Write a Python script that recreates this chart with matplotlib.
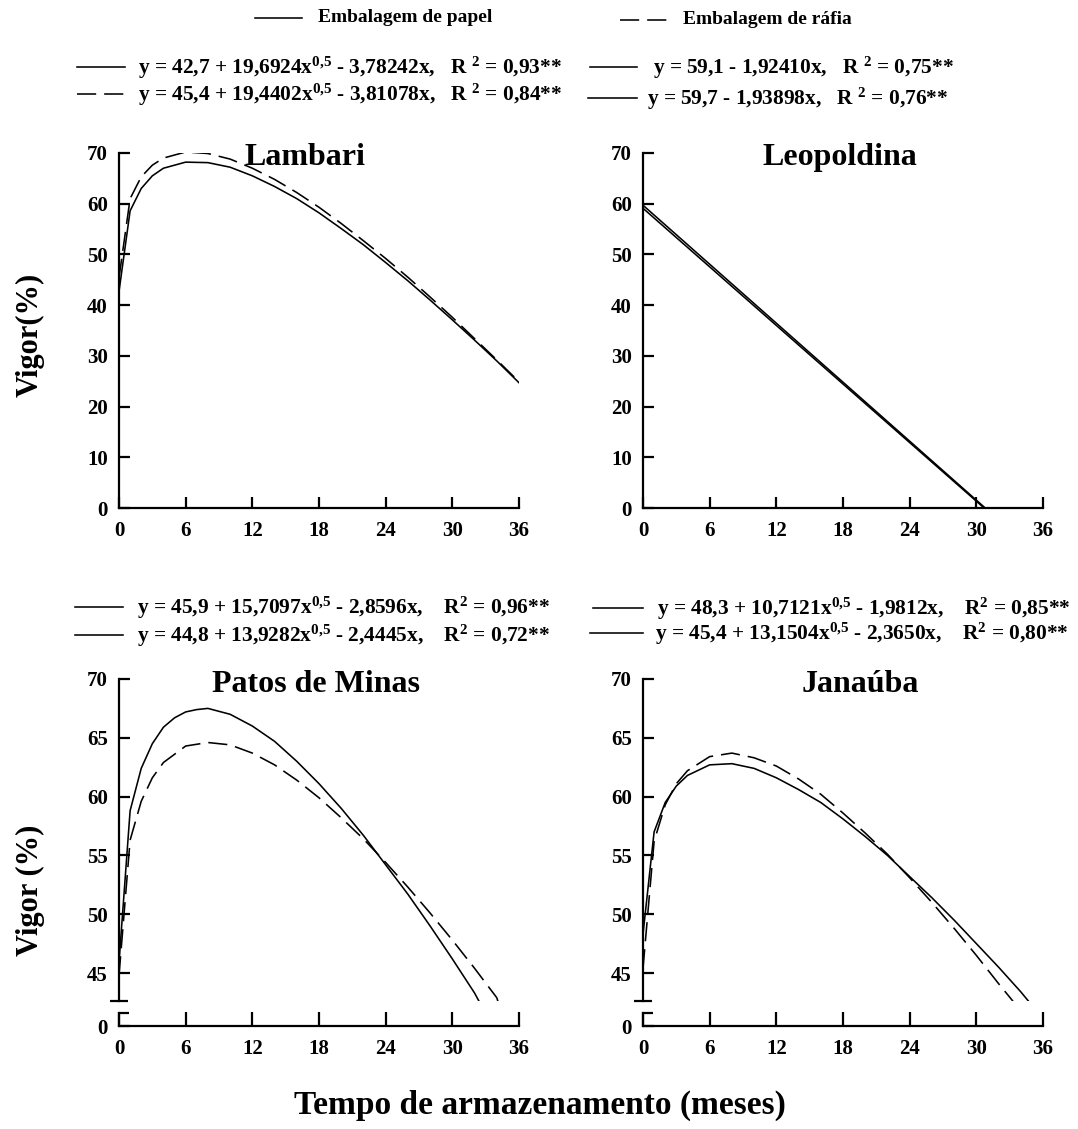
import matplotlib
matplotlib.use("Agg")
import matplotlib.pyplot as plt
from matplotlib.lines import Line2D

plt.rcParams['font.family'] = ['Liberation Serif', 'DejaVu Serif']
plt.rcParams['font.weight'] = 'bold'
plt.rcParams['mathtext.fontset'] = 'custom'
plt.rcParams['mathtext.rm'] = 'Liberation Serif:bold'
plt.rcParams['mathtext.bf'] = 'Liberation Serif:bold'
plt.rcParams['mathtext.it'] = 'Liberation Serif:bold'

# Lambari (meses, vigor %)
lam_x = [0, 1, 2, 3, 4, 6, 8, 10, 12, 14, 16, 18, 20, 22, 24, 26, 28, 30, 32, 34, 36]
lam_papel = [42.7, 58.6, 63.0, 65.5, 67.0, 68.2, 68.1, 67.2, 65.5, 63.4, 61.0,
             58.2, 55.1, 51.9, 48.4, 44.8, 41.0, 37.1, 33.1, 29.0, 24.7]
lam_rafia = [45.4, 61.0, 65.3, 67.6, 69.0, 70.2, 69.9, 68.8, 67.0, 64.8, 62.2,
             59.3, 56.1, 52.7, 49.2, 45.5, 41.6, 37.6, 33.4, 29.2, 24.9]

# Leopoldina
leo_x_papel = [0, 30.7]
leo_papel = [59.1, 0]
leo_x_rafia = [0, 30.8]
leo_rafia = [59.7, 0]

# Patos de Minas
pat_x_papel = [0, 1, 2, 3, 4, 5, 6, 7, 8, 10, 12, 14, 16, 18, 20, 22, 24, 26, 28, 30, 32, 32.4]
pat_papel = [45.9, 58.8, 62.4, 64.5, 65.9, 66.7, 67.2, 67.4, 67.5, 67.0, 66.0,
             64.7, 63.0, 61.1, 59.0, 56.7, 54.2, 51.7, 49.0, 46.2, 43.3, 42.6]
pat_x_rafia = [0, 1, 2, 3, 4, 6, 8, 10, 12, 14, 16, 18, 20, 22, 24, 26, 28, 30, 32, 34, 34.1]
pat_rafia = [44.8, 56.3, 59.6, 61.6, 62.9, 64.3, 64.6, 64.4, 63.7, 62.7, 61.4,
             59.9, 58.2, 56.4, 54.4, 52.3, 50.1, 47.8, 45.4, 42.9, 42.6]

# Janauba
jan_x_papel = [0, 1, 2, 3, 4, 6, 8, 10, 12, 14, 16, 18, 20, 22, 24, 26, 28, 30, 32, 34, 34.7]
jan_papel = [48.3, 57.0, 59.5, 60.9, 61.8, 62.7, 62.8, 62.4, 61.6, 60.6, 59.5,
             58.1, 56.6, 55.0, 53.2, 51.4, 49.5, 47.5, 45.5, 43.4, 42.6]
jan_x_rafia = [0, 1, 2, 3, 4, 6, 8, 10, 12, 14, 16, 18, 20, 22, 24, 26, 28, 30, 32, 33.3]
jan_rafia = [45.4, 56.2, 59.3, 61.1, 62.2, 63.4, 63.7, 63.3, 62.6, 61.5, 60.2,
             58.6, 56.9, 55.1, 53.1, 51.0, 48.8, 46.5, 44.1, 42.6]

x_ticks = [0, 6, 12, 18, 24, 30, 36]
top_yticks = [0, 10, 20, 30, 40, 50, 60, 70]
bot_yticks = [45, 50, 55, 60, 65, 70]

eq_lam_papel = r"y = 42,7 + 19,6924x$^{0{,}5}$ - 3,78242x,   R $^{2}$ = 0,93**"
eq_lam_rafia = r"y = 45,4 + 19,4402x$^{0{,}5}$ - 3,81078x,   R $^{2}$ = 0,84**"
eq_leo_papel = r"y = 59,1 - 1,92410x,   R $^{2}$ = 0,75**"
eq_leo_rafia = r"y = 59,7 - 1,93898x,   R $^{2}$ = 0,76**"
eq_pat_papel = r"y = 45,9 + 15,7097x$^{0{,}5}$ - 2,8596x,    R$^{2}$ = 0,96**"
eq_pat_rafia = r"y = 44,8 + 13,9282x$^{0{,}5}$ - 2,4445x,    R$^{2}$ = 0,72**"
eq_jan_papel = r"y = 48,3 + 10,7121x$^{0{,}5}$ - 1,9812x,    R$^{2}$ = 0,85**"
eq_jan_rafia = r"y = 45,4 + 13,1504x$^{0{,}5}$ - 2,3650x,    R$^{2}$ = 0,80**"

W, H = 1078, 1129
fig = plt.figure(figsize=(W / 100, H / 100), dpi=100)

LW = 1.15
DASH = (12, 5)
TICK_FS = 15


def box(x0, x1, ytop, ybot):
    return [x0 / W, 1 - ybot / H, (x1 - x0) / W, (ybot - ytop) / H]


def ftext(x, y, s, **kw):
    kw.setdefault('va', 'center')
    kw.setdefault('ha', 'left')
    kw.setdefault('fontsize', 15)
    fig.text(x / W, 1 - y / H, s, fontweight='bold', **kw)


def fline(x0, x1, y, dashed=False):
    ln = Line2D([x0 / W, x1 / W], [1 - y / H, 1 - y / H], color='black', lw=LW,
                transform=fig.transFigure)
    if dashed:
        ln.set_dashes(DASH)
    fig.add_artist(ln)


def style(ax):
    for s in ['top', 'right']:
        ax.spines[s].set_visible(False)
    for s in ['left', 'bottom']:
        ax.spines[s].set_linewidth(1.6)
    ax.tick_params(direction='in', length=8, width=1.6, labelsize=TICK_FS)
    ax.tick_params(axis='y', pad=8)
    ax.tick_params(axis='x', pad=9)


def top_panel(x0, x1, title, tx, series):
    ax = fig.add_axes(box(x0, x1, 153, 508))
    style(ax)
    for xs, ys, dashed in series:
        ln, = ax.plot(xs, ys, color='black', lw=LW)
        if dashed:
            ln.set_dashes(DASH)
    ax.set_xlim(0, 36)
    ax.set_ylim(0, 70)
    ax.set_xticks(x_ticks)
    ax.set_yticks(top_yticks)
    for lab in ax.get_xticklabels() + ax.get_yticklabels():
        lab.set_fontweight('bold')
    ftext(tx, 165, title, ha='center', va='baseline', fontsize=23)
    return ax


def bottom_panel(x0, x1, title, tx, series):
    ax = fig.add_axes(box(x0, x1, 679, 1001))
    style(ax)
    ax.spines['bottom'].set_visible(False)
    for xs, ys, dashed in series:
        ln, = ax.plot(xs, ys, color='black', lw=LW)
        if dashed:
            ln.set_dashes(DASH)
    ax.set_xlim(0, 36)
    ax.set_ylim(42.62, 70)
    ax.set_xticks([])
    ax.set_yticks(bot_yticks)
    ax.set_yticks([42.62], minor=True)
    ax.tick_params(axis='y', which='minor', direction='inout', length=13, width=1.6)
    for lab in ax.get_yticklabels():
        lab.set_fontweight('bold')

    low = fig.add_axes(box(x0, x1, 1013, 1026))
    style(low)
    low.patch.set_visible(False)
    low.set_xlim(0, 36)
    low.set_ylim(0, 1.1)
    low.set_xticks(x_ticks)
    low.set_yticks([0])
    low.set_yticks([1.1], minor=True)
    low.tick_params(axis='y', which='minor', direction='in', length=7, width=1.6)
    low.tick_params(axis='x', length=10)
    for lab in low.get_xticklabels() + low.get_yticklabels():
        lab.set_fontweight('bold')
    ftext(tx, 692, title, ha='center', va='baseline', fontsize=23)
    return ax


top_panel(119, 519, 'Lambari', 305,
          [(lam_x, lam_papel, False), (lam_x, lam_rafia, True)])
top_panel(643, 1043, 'Leopoldina', 840,
          [(leo_x_papel, leo_papel, False), (leo_x_rafia, leo_rafia, False)])
bottom_panel(119, 519, 'Patos de Minas', 316,
             [(pat_x_papel, pat_papel, False), (pat_x_rafia, pat_rafia, True)])
bottom_panel(643, 1043, 'Janaúba', 860,
             [(jan_x_papel, jan_papel, False), (jan_x_rafia, jan_rafia, True)])

# header legend
fline(255, 302, 18)
ftext(318, 18, 'Embalagem de papel', fontsize=14)
fline(620, 670, 20, dashed=True)
ftext(683, 20, 'Embalagem de ráfia', fontsize=14)

# equations top
EQ_FS = 15.4
fline(77, 125, 67)
ftext(138, 68, eq_lam_papel, fontsize=EQ_FS)
fline(77, 125, 94, dashed=True)
ftext(138, 95, eq_lam_rafia, fontsize=EQ_FS)
fline(590, 637, 67)
ftext(653, 68, eq_leo_papel, fontsize=EQ_FS)
fline(588, 637, 98)
ftext(647, 99, eq_leo_rafia, fontsize=EQ_FS)

# equations bottom
fline(75, 123, 607)
ftext(137, 608, eq_pat_papel, fontsize=EQ_FS)
fline(75, 123, 635)
ftext(137, 636, eq_pat_rafia, fontsize=EQ_FS)
fline(593, 643, 608)
ftext(657, 609, eq_jan_papel, fontsize=EQ_FS)
fline(590, 643, 633)
ftext(655, 634, eq_jan_rafia, fontsize=EQ_FS)

ftext(30, 335, 'Vigor(%)', rotation=90, ha='center', fontsize=22)
ftext(30, 890, 'Vigor (%)', rotation=90, ha='center', fontsize=22)
ftext(540, 1105, 'Tempo de armazenamento (meses)', ha='center', fontsize=24)

fig.savefig('out.png', dpi=100)
